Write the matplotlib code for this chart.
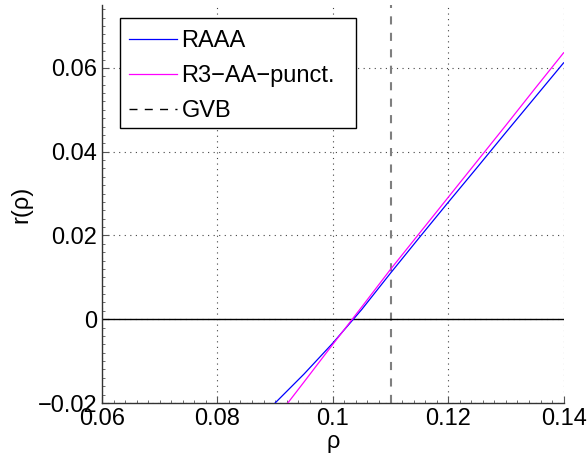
import matplotlib
matplotlib.use("Agg")
import matplotlib.pyplot as plt
from matplotlib.ticker import MultipleLocator
from matplotlib.patches import Rectangle
from matplotlib.lines import Line2D

plt.rcParams['font.family'] = ['Liberation Sans', 'DejaVu Sans']

rho_raaa = [0.0900, 0.0950, 0.1000, 0.1050, 0.1100, 0.1150, 0.1200, 0.1250, 0.1300, 0.1350, 0.1400]
r_raaa = [-0.0200, -0.0131, -0.0057, 0.0023, 0.0110, 0.0195, 0.0279, 0.0362, 0.0446, 0.0529, 0.0612]

rho_r3 = [0.0922, 0.0950, 0.1000, 0.1050, 0.1100, 0.1150, 0.1200, 0.1250, 0.1300, 0.1350, 0.1400]
r_r3 = [-0.0200, -0.0150, -0.0060, 0.0029, 0.0119, 0.0205, 0.0291, 0.0377, 0.0463, 0.0550, 0.0636]

gvb_rho = 0.11
xticks = [0.06, 0.08, 0.10, 0.12, 0.14]
xtick_labels = ['0.06', '0.08', '0.1', '0.12', '0.14']
yticks = [-0.02, 0, 0.02, 0.04, 0.06]
ytick_labels = ['\u22120.02', '0', '0.02', '0.04', '0.06']
legend_labels = ['RAAA', 'R3\u2212AA\u2212punct.', 'GVB']

W, H = 588, 459
fig = plt.figure(figsize=(W / 100, H / 100), dpi=100)
ax = fig.add_axes([0.1735, 0.122, 0.785, 0.867])

l1, = ax.plot(rho_raaa, r_raaa, color='#0000ff', lw=0.9, zorder=3)
l2, = ax.plot(rho_r3, r_r3, color='#ff00ff', lw=0.9, zorder=3)
ax.axvline(gvb_rho, color='#7f7f7f', lw=1.5, ls=(0, (3.9, 4)), zorder=2)
ax.axhline(0, color='black', lw=1.0, zorder=2)

ax.set_xlim(0.06, 0.14)
ax.set_ylim(-0.02, 0.075)
ax.set_xticks(xticks)
ax.set_xticklabels(xtick_labels)
ax.set_yticks(yticks)
ax.set_yticklabels(ytick_labels)
ax.xaxis.set_minor_locator(MultipleLocator(0.002))
ax.yaxis.set_minor_locator(MultipleLocator(0.002))
ax.tick_params(which='both', direction='in', labelsize=17, color='#555555')
ax.tick_params(which='major', length=5)
ax.tick_params(which='minor', length=2.5)

ax.grid(True, which='major', color='#444444', ls=(0, (1, 4)), lw=0.8)
for s in ['top', 'right']:
    ax.spines[s].set_visible(False)
for s in ['left', 'bottom']:
    ax.spines[s].set_color('#333333')
    ax.spines[s].set_linewidth(1.0)

ax.set_xlabel('\u03c1', fontsize=17, labelpad=1)
ax.set_ylabel('r(\u03c1)', fontsize=17, labelpad=4)

# legend frame (MATLAB style, wider right padding)
frame = Rectangle((119.5 / W, 1 - 127.5 / H), (356 - 119.5) / W, (127.5 - 17.5) / H,
                  transform=fig.transFigure, facecolor='white', edgecolor='black',
                  lw=1.0, zorder=4)
ax.add_artist(frame)

h3 = Line2D([], [], color='black', lw=1.0, ls=(0, (5.75, 5.25)))
leg = ax.legend([l1, l2, h3], legend_labels, loc='upper left',
                bbox_to_anchor=(0.039, 0.961), borderaxespad=0,
                fontsize=17, frameon=False,
                handlelength=2.0, labelspacing=0.55, borderpad=0.4, handletextpad=0.2)
leg.set_zorder(5)

fig.savefig('out.png', dpi=100)
